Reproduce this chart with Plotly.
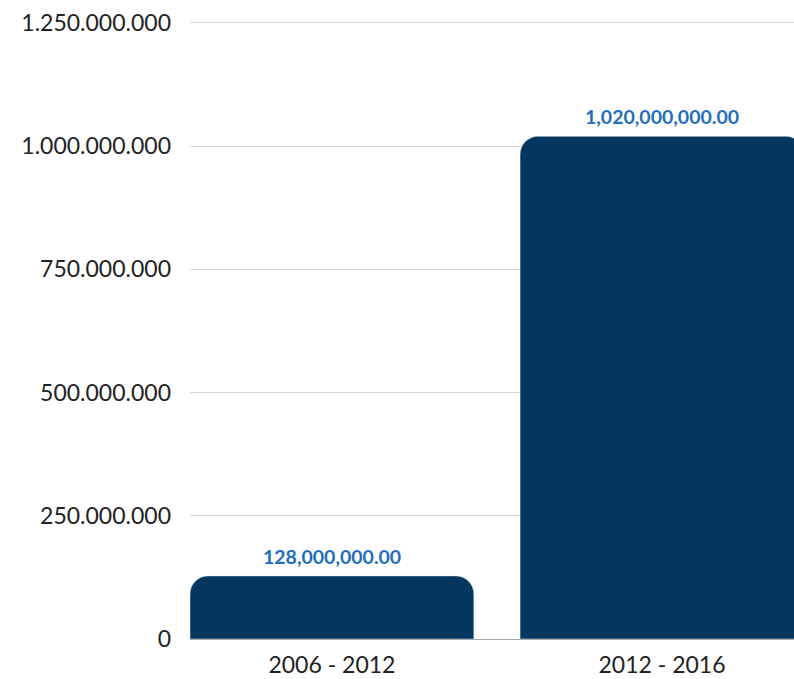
import plotly.graph_objects as go

categories = ["2006 - 2012", "2012 - 2016"]
values = [128000000, 1020000000]
tick_values = [0, 250000000, 500000000, 750000000, 1000000000, 1250000000]
tick_labels = ["0", "250.000.000", "500.000.000", "750.000.000", "1.000.000.000", "1.250.000.000"]

bar_color = "#04375f"
label_color = "#1f6fba"
font_family = "Lato, sans-serif"

fig = go.Figure()
fig.add_trace(go.Bar(
    x=categories, y=values, marker_color=bar_color, width=0.86,
    hoverinfo="skip",
))

for c, v in zip(categories, values):
    fig.add_annotation(
        x=c, y=v, text=f"<b>{v:,.2f}</b>", showarrow=False,
        yanchor="bottom", yshift=6,
        font=dict(family=font_family, size=19.5, color=label_color),
    )

fig.update_layout(
    width=794, height=679,
    margin=dict(l=190, r=0, t=18, b=40),
    paper_bgcolor="white", plot_bgcolor="white",
    barcornerradius=18,
    showlegend=False,
    font=dict(family=font_family, size=23, color="#222222"),
)
fig.update_xaxes(
    range=[-0.43, 1.40], showgrid=False, showline=True, linecolor="#aaaaaa",
    linewidth=1, ticks="", ticklabelstandoff=5,
    tickfont=dict(size=23, color="#222222"),
)
fig.update_yaxes(
    range=[0, 1260000000], tickvals=tick_values, ticktext=tick_labels,
    showgrid=True, gridcolor="#d4d4d4", gridwidth=1, zeroline=False,
    showline=False, ticks="", ticklabelstandoff=18,
    tickfont=dict(size=23, color="#222222"),
)

fig.write_html("out.html")
